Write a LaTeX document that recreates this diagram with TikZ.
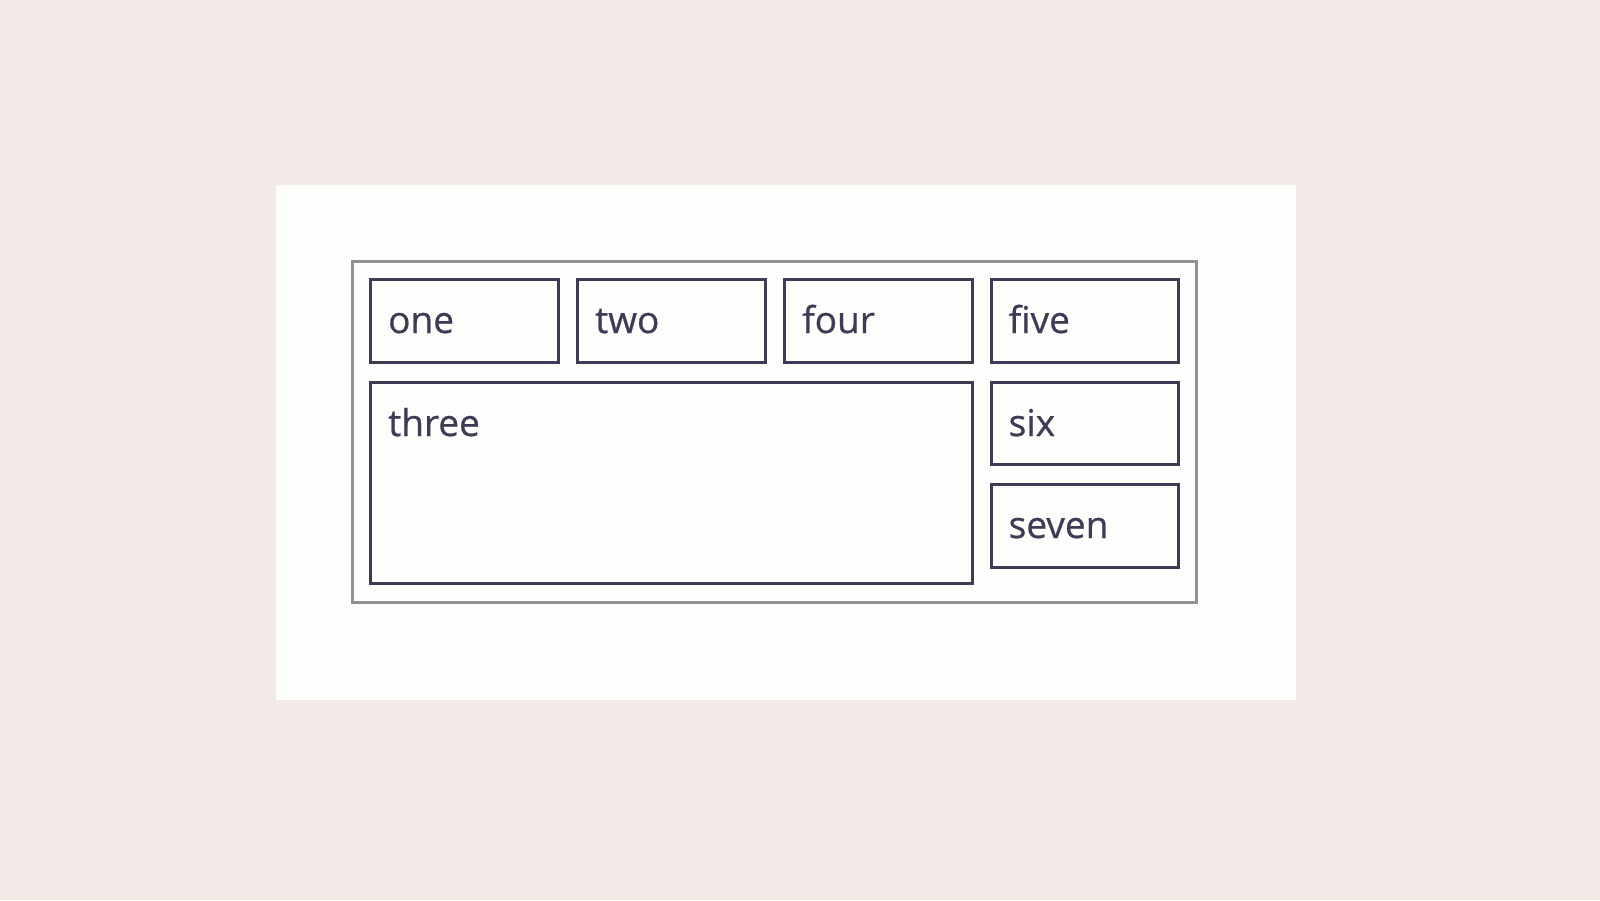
\documentclass[tikz,border=0pt]{standalone}
\usepackage{fontspec}
\setmainfont{Open Sans}
\newfontfamily\lblfont[FakeBold=0.6]{Open Sans}
\definecolor{bgc}{RGB}{242,234,230}
\definecolor{panelc}{RGB}{253,253,252}
\definecolor{boxc}{RGB}{60,60,84}
\definecolor{framec}{RGB}{145,145,145}
\tikzset{
  cell/.style={draw=boxc, line width=3pt, fill=panelc},
  lbl/.style={anchor=base west, inner sep=0pt, text=boxc, font=\lblfont\fontsize{37}{40}\selectfont}
}
\begin{document}
\begin{tikzpicture}[x=1pt,y=-1pt]
\fill[bgc] (0,0) rectangle (1600,900);
\useasboundingbox (0,0) rectangle (1600,900);
\fill[panelc] (276,185) rectangle (1296,700);
\draw[framec, line width=3pt] (352.5,261) rectangle (1196.5,602);
% boxes
\coordinate (oneA) at (370.5,279.5); \coordinate (oneB) at (558.5,362.5);
\coordinate (twoA) at (577.5,279.5); \coordinate (twoB) at (765.5,362.5);
\coordinate (fourA) at (784.5,279.5); \coordinate (fourB) at (972.5,362.5);
\coordinate (fiveA) at (991,279.5); \coordinate (fiveB) at (1178,362.5);
\coordinate (threeA) at (370.5,382.5); \coordinate (threeB) at (972.5,583.5);
\coordinate (sixA) at (991,382.5); \coordinate (sixB) at (1178,464.5);
\coordinate (sevenA) at (991,484.5); \coordinate (sevenB) at (1178,567.5);
\foreach \n in {one,two,four,five,three,six,seven}{
  \draw[cell] (\n A) rectangle (\n B);
  \node[lbl] (\n) at ([shift={(17.5,53.5)}]\n A) {\n};
}
\end{tikzpicture}
\end{document}
